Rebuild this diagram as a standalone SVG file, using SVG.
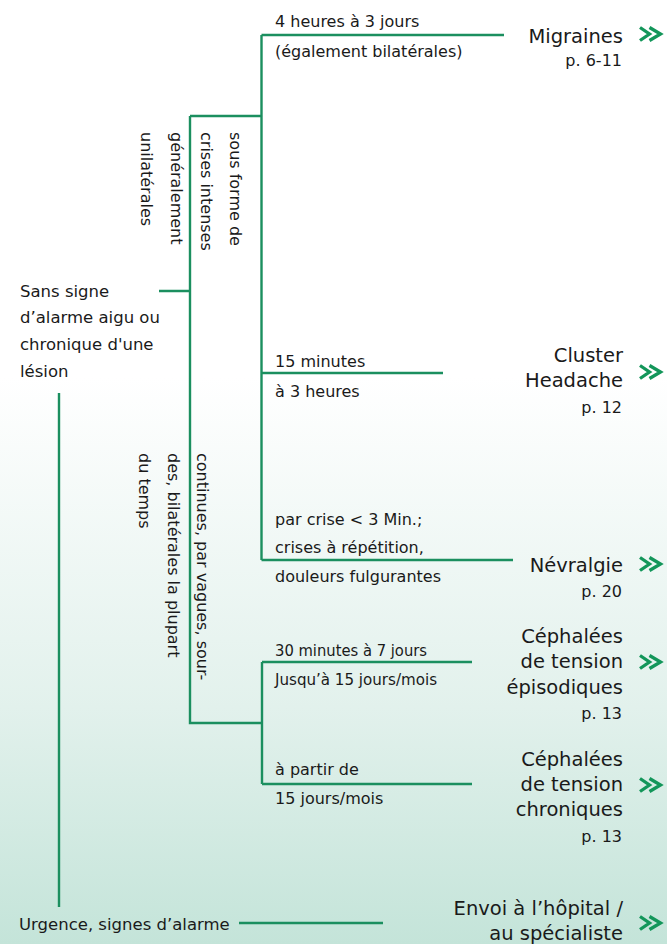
<svg xmlns="http://www.w3.org/2000/svg" width="667" height="944" viewBox="0 0 667 944">
<defs>
<linearGradient id="bg" x1="0" y1="0" x2="0" y2="944" gradientUnits="userSpaceOnUse">
<stop offset="0" stop-color="#ffffff"/>
<stop offset="0.4" stop-color="#ffffff"/>
<stop offset="0.75" stop-color="#e2f1ec"/>
<stop offset="1" stop-color="#c4e4d9"/>
</linearGradient>
<path id="chev" d="M-12,-6.5 L-2.5,0 L-12,6.5 M-2.5,-6.5 L8.5,0 L-2.5,6.5" fill="none" stroke="#13965a" stroke-width="3.3" stroke-linejoin="miter"/>
<style>
text{font-family:"DejaVu Sans","Liberation Sans",sans-serif;fill:#1a1a1a}
.lb{font-size:16px}
.lf{font-size:16.5px}
.nd{font-size:19.5px;text-anchor:end}
.pg{font-size:16px;text-anchor:end}
.cn{fill:none;stroke:#1b8f5f;stroke-width:2.4}
</style>
</defs>
<rect width="667" height="944" fill="url(#bg)"/>
<g id="connectors" class="cn">
<path d="M261.5,35 H504 M261.5,35 V560 M190,116 H261.5 M261.5,373 H443 M261.5,560 H513"/>
<path d="M159,291 H190 M190,116 V723 H262 M262,662 V784 M262,662 H472 M262,784 H472"/>
<path d="M59,393 V907 M239,923 H383"/>
</g>
<g id="root">
<text class="lf" x="20" y="297">Sans signe</text>
<text class="lf" x="20" y="323">d’alarme aigu ou</text>
<text class="lf" x="20" y="350">chronique d'une</text>
<text class="lf" x="20" y="377">lésion</text>
</g>
<g id="urgence">
<text class="lf" x="19" y="930">Urgence, signes d’alarme</text>
</g>
<g id="branch-crises">
<text class="lb" transform="translate(230,132) rotate(90)">sous forme de</text>
<text class="lb" transform="translate(201,132) rotate(90)">crises intenses</text>
<text class="lb" transform="translate(171,132) rotate(90)">généralement</text>
<text class="lb" transform="translate(141,132) rotate(90)">unilatérales</text>
</g>
<g id="branch-continues">
<text class="lb" transform="translate(197,453) rotate(90)">continues, par vagues, sour-</text>
<text class="lb" transform="translate(168,453) rotate(90)">des, bilatérales la plupart</text>
<text class="lb" transform="translate(139,453) rotate(90)">du temps</text>
</g>
<g id="labels">
<text class="lb" x="275" y="27">4 heures à 3 jours</text>
<text class="lb" x="275" y="57">(également bilatérales)</text>
<text class="lb" x="275" y="367">15 minutes</text>
<text class="lb" x="275" y="397">à 3 heures</text>
<text class="lb" x="275" y="525">par crise &lt; 3 Min.;</text>
<text class="lb" x="275" y="553">crises à répétition,</text>
<text class="lb" x="275" y="582">douleurs fulgurantes</text>
<text class="lb" x="275" y="656" textLength="152" lengthAdjust="spacingAndGlyphs">30 minutes à 7 jours</text>
<text class="lb" x="275" y="685" textLength="162" lengthAdjust="spacingAndGlyphs">Jusqu’à 15 jours/mois</text>
<text class="lb" x="275" y="775">à partir de</text>
<text class="lb" x="275" y="804">15 jours/mois</text>
</g>
<g id="migraines">
<text class="nd" x="623" y="43">Migraines</text>
<text class="pg" x="622" y="66">p. 6-11</text>
<use href="#chev" x="652" y="34"/>
</g>
<g id="cluster">
<text class="nd" x="623" y="362">Cluster</text>
<text class="nd" x="623" y="387">Headache</text>
<text class="pg" x="622" y="413">p. 12</text>
<use href="#chev" x="652" y="372"/>
</g>
<g id="nevralgie">
<text class="nd" x="623" y="572">Névralgie</text>
<text class="pg" x="622" y="597">p. 20</text>
<use href="#chev" x="652" y="564"/>
</g>
<g id="tension-episodiques">
<text class="nd" x="623" y="643">Céphalées</text>
<text class="nd" x="623" y="668">de tension</text>
<text class="nd" x="623" y="694">épisodiques</text>
<text class="pg" x="622" y="719">p. 13</text>
<use href="#chev" x="652" y="662"/>
</g>
<g id="tension-chroniques">
<text class="nd" x="623" y="766">Céphalées</text>
<text class="nd" x="623" y="791">de tension</text>
<text class="nd" x="623" y="816">chroniques</text>
<text class="pg" x="622" y="842">p. 13</text>
<use href="#chev" x="652" y="785"/>
</g>
<g id="hopital">
<text class="nd" x="623" y="915">Envoi à l’hôpital /</text>
<text class="nd" x="623" y="940">au spécialiste</text>
<use href="#chev" x="652" y="923"/>
</g>
</svg>
